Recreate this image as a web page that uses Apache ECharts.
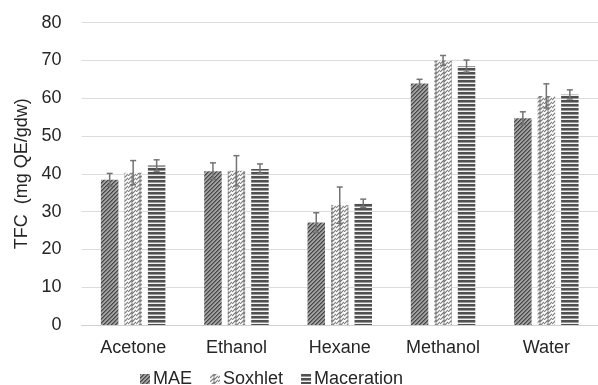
<!DOCTYPE html>
<html>
<head>
<meta charset="utf-8">
<script src="https://cdn.jsdelivr.net/npm/echarts@6/dist/echarts.min.js"></script>
<style>
html,body{margin:0;padding:0;background:#fff;}
#chart{width:598px;height:385px;}
</style>
</head>
<body>
<div id="chart"></div>
<script>
// ---- data ----
var categories = ['Acetone', 'Ethanol', 'Hexane', 'Methanol', 'Water'];
var seriesNames = ['MAE', 'Soxhlet', 'Maceration'];
var maeValues = [38.4, 40.7, 27.1, 63.9, 54.7];
var soxhletValues = [40.3, 40.8, 31.7, 70.0, 60.6];
var macerationValues = [42.2, 41.3, 32.2, 68.5, 61.0];
var maeErrors = [1.7, 2.2, 2.6, 1.1, 1.7];
var soxhletErrors = [3.2, 4.0, 4.8, 1.3, 3.2];
var macerationErrors = [1.5, 1.3, 1.1, 1.6, 1.2];
var yTicks = [0, 10, 20, 30, 40, 50, 60, 70, 80];

// ---- patterns ----
function makePattern(w, h, draw) {
  var c = document.createElement('canvas');
  c.width = w; c.height = h;
  var ctx = c.getContext('2d');
  draw(ctx, w, h);
  return { image: c, repeat: 'repeat' };
}
var maePattern = makePattern(4, 4, function (ctx, w, h) {
  ctx.fillStyle = '#a0a0a0'; ctx.fillRect(0, 0, w, h);
  for (var i = 0; i < 4; i++) {
    ctx.fillStyle = '#454545'; ctx.fillRect(i, 3 - i, 1, 1);
    ctx.fillStyle = '#707070'; ctx.fillRect((i + 1) % 4, 3 - i, 1, 1);
  }
});
var soxPattern = makePattern(8, 8, function (ctx, w, h) {
  ctx.fillStyle = '#ffffff'; ctx.fillRect(0, 0, w, h);
  ctx.strokeStyle = '#808080'; ctx.lineWidth = 1.2;
  ctx.beginPath();
  ctx.moveTo(0, 4); ctx.lineTo(4, 0); ctx.lineTo(4, 2); ctx.lineTo(8, -2);
  ctx.moveTo(0, 8); ctx.lineTo(4, 4); ctx.lineTo(4, 6); ctx.lineTo(8, 2);
  ctx.moveTo(0, 12); ctx.lineTo(4, 8); ctx.lineTo(4, 10); ctx.lineTo(8, 6);
  ctx.stroke();
});
var macPattern = makePattern(4, 4, function (ctx, w, h) {
  ctx.fillStyle = '#f2f2f2'; ctx.fillRect(0, 0, w, h);
  ctx.fillStyle = '#505050'; ctx.fillRect(0, 0, w, 2);
  ctx.fillStyle = '#999999'; ctx.fillRect(0, 2, w, 1);
});

var BAR_W = 17.5;
var BAR_GAP = 6;
var patterns = [maePattern, soxPattern, macPattern];
var valueSets = [maeValues, soxhletValues, macerationValues];
var errorSets = [maeErrors, soxhletErrors, macerationErrors];

var series = [];
seriesNames.forEach(function (name, k) {
  series.push({
    name: name,
    type: 'bar',
    data: valueSets[k],
    barWidth: BAR_W,
    barGap: (BAR_GAP / BAR_W * 100) + '%',
    itemStyle: { color: patterns[k], borderWidth: 0 }
  });
});
seriesNames.forEach(function (name, k) {
  var data = valueSets[k].map(function (v, i) { return [i, v, errorSets[k][i]]; });
  series.push({
    type: 'custom',
    name: name + ' err',
    data: data,
    z: 10,
    silent: true,
    renderItem: function (params, api) {
      var i = api.value(0), v = api.value(1), e = api.value(2);
      var off = (k - 1) * (BAR_W + BAR_GAP);
      var top = api.coord([i, v + e]);
      var bot = api.coord([i, v - e]);
      var x = top[0] + off;
      var cap = 3;
      var st = { stroke: '#737373', lineWidth: 1.5 };
      return {
        type: 'group',
        children: [
          { type: 'line', shape: { x1: x, y1: top[1], x2: x, y2: bot[1] }, style: st },
          { type: 'line', shape: { x1: x - cap, y1: top[1], x2: x + cap, y2: top[1] }, style: st },
          { type: 'line', shape: { x1: x - cap, y1: bot[1], x2: x + cap, y2: bot[1] }, style: st }
        ]
      };
    }
  });
});

var chart = echarts.init(document.getElementById('chart'), null, { renderer: 'canvas' });
chart.setOption({
  animation: false,
  backgroundColor: '#ffffff',
  textStyle: { fontFamily: 'Liberation Sans, Arial, sans-serif' },
  grid: { left: 81.5, top: 22.6, width: 526.3, height: 302.4, containLabel: false },
  legend: {
    data: seriesNames,
    left: 135,
    top: 365,
    itemWidth: 10,
    itemHeight: 10,
    itemGap: 18,
    icon: 'rect',
    textStyle: { fontSize: 18, color: '#262626', padding: [0, 0, 0, -2] }
  },
  xAxis: {
    type: 'category',
    data: categories,
    axisLine: { show: true, lineStyle: { color: '#d0d0d0', width: 1 } },
    axisTick: { show: false },
    axisLabel: { fontSize: 18, color: '#262626', margin: 14 }
  },
  yAxis: {
    type: 'value',
    min: yTicks[0],
    max: yTicks[yTicks.length - 1],
    interval: yTicks[1] - yTicks[0],
    name: 'TFC  (mg QE/gdw)',
    nameLocation: 'middle',
    nameRotate: 90,
    nameGap: 46,
    nameTextStyle: { fontSize: 18, color: '#262626' },
    axisLine: { show: false },
    axisTick: { show: false },
    axisLabel: { fontSize: 18, color: '#262626', margin: 20 },
    splitLine: { lineStyle: { color: '#dcdcdc', width: 1 } }
  },
  series: series
});
</script>
</body>
</html>
